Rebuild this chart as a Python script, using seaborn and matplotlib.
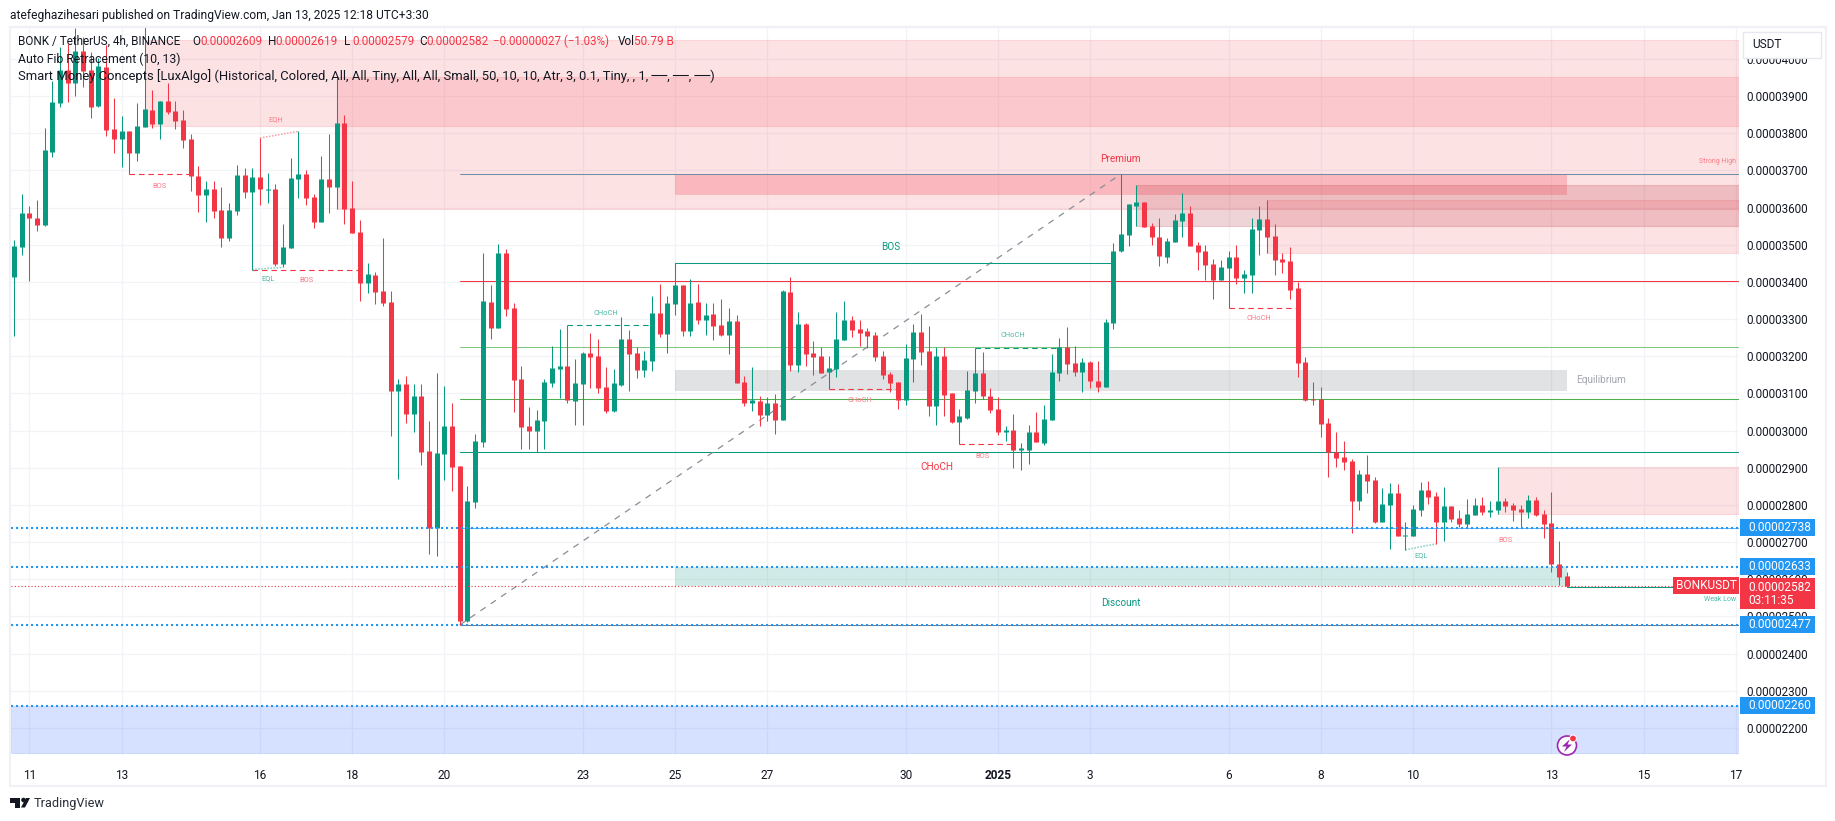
import pandas as pd
import numpy as np
import matplotlib
matplotlib.use("Agg")
import matplotlib.pyplot as plt
from matplotlib.patches import Rectangle, Ellipse, Polygon
import seaborn as sns

# prices are in units of 0.00000001 USDT, one entry per 4h candle
opens = [3414,3494,3584,3573,3553,3749,3882,3970,3936,4021,
         3970,3873,3977,3810,3785,3805,3747,3817,3862,3824,
         3886,3859,3835,3784,3686,3633,3649,3593,3518,3590,
         3687,3641,3682,3647,3649,3449,3491,3676,3690,3628,
         3561,3676,3655,3827,3598,3534,3396,3418,3375,3346,
         3106,3125,3044,3093,2945,2738,2937,3012,2904,2487,
         2808,2969,3346,3276,3478,3330,3139,3012,2999,3026,
         3128,3165,3174,3079,3125,3209,3200,3117,3052,3122,
         3246,3209,3163,3187,3316,3260,3340,3392,3268,3346,
         3297,3313,3284,3257,3295,3130,3074,3079,3042,3074,
         3028,3373,3176,3287,3208,3200,3157,3165,3243,3297,
         3273,3268,3257,3200,3152,3130,3082,3192,3265,3214,
         3066,3200,3101,3023,3034,3106,3155,3093,3058,2996,
         3001,2947,2947,2996,2966,3028,3155,3225,3182,3157,
         3184,3133,3117,3289,3483,3526,3604,3615,3550,3521,
         3467,3507,3564,3585,3499,3483,3448,3405,3437,3467,
         3410,3418,3539,3569,3523,3461,3456,3383,3184,3085,
         3085,3020,2942,2929,2918,2810,2883,2867,2754,2800,
         2832,2716,2716,2786,2840,2824,2754,2797,2765,2749,
         2773,2800,2781,2786,2810,2800,2789,2781,2813,2775,
         2751,2641,2609]
highs = [3512,3636,3604,3620,3813,3940,4033,4041,4084,4060,
         4019,4001,4037,3894,3846,3805,3882,4086,3916,3886,
         3936,3886,3862,3797,3711,3671,3671,3656,3613,3714,
         3706,3706,3787,3692,3663,3555,3733,3805,3701,3636,
         3738,3797,3948,3849,3671,3566,3450,3426,3518,3375,
         3139,3147,3125,3125,3026,3155,3120,3074,2904,2851,
         2991,3478,3392,3502,3488,3343,3174,3063,3055,3139,
         3227,3273,3284,3192,3211,3262,3246,3171,3165,3305,
         3270,3225,3214,3362,3394,3362,3450,3392,3408,3394,
         3343,3343,3354,3330,3311,3147,3171,3093,3090,3098,
         3378,3413,3319,3289,3241,3225,3200,3319,3348,3308,
         3297,3276,3265,3214,3157,3130,3233,3287,3313,3281,
         3225,3225,3101,3058,3160,3222,3211,3114,3090,3012,
         3044,2966,3015,3050,3069,3206,3249,3278,3227,3195,
         3187,3187,3300,3504,3690,3609,3660,3615,3558,3572,
         3518,3582,3639,3604,3507,3499,3461,3459,3483,3499,
         3432,3572,3604,3620,3556,3477,3494,3399,3198,3130,
         3117,3033,2996,2972,2923,2894,2934,2875,2845,2859,
         2856,2754,2800,2862,2864,2835,2848,2797,2786,2816,
         2818,2821,2810,2902,2818,2805,2800,2827,2821,2786,
         2835,2703,2619]
lows = [3254,3472,3403,3537,3551,3736,3871,3884,3900,3923,
        3841,3871,3792,3747,3709,3690,3726,3817,3815,3784,
        3851,3811,3760,3644,3588,3561,3571,3493,3509,3579,
        3625,3433,3606,3612,3444,3439,3491,3625,3606,3544,
        3561,3585,3596,3555,3531,3348,3370,3340,3335,2985,
        2869,3020,2996,2907,2668,2662,2867,2837,2477,2485,
        2791,2956,3246,3276,3308,3050,2950,2950,2942,2950,
        3117,3087,3074,3015,3015,3114,3101,3047,3050,3120,
        3106,3141,3144,3160,3252,3209,3311,3254,3254,3287,
        3257,3243,3254,3206,3128,3066,3052,3012,3026,2991,
        3028,3160,3157,3173,3149,3155,3112,3144,3243,3252,
        3227,3222,3187,3138,3103,3058,3069,3130,3176,3039,
        3015,3039,3020,2964,3031,3074,3085,3047,2988,2972,
        2899,2894,2910,2969,2961,3028,3133,3152,3147,3103,
        3114,3103,3117,3273,3480,3496,3550,3547,3499,3443,
        3451,3507,3521,3496,3432,3405,3354,3405,3331,3394,
        3370,3370,3472,3478,3418,3424,3354,3144,3079,3068,
        2982,2875,2902,2894,2724,2786,2832,2751,2754,2681,
        2716,2679,2716,2770,2802,2695,2703,2754,2740,2738,
        2773,2773,2767,2775,2781,2757,2740,2765,2770,2711,
        2619,2584,2579]
closes = [3496,3584,3572,3553,3754,3883,3970,3936,4021,3968,
          3871,3980,3808,3785,3805,3747,3819,3865,3824,3886,
          3857,3833,3781,3684,3633,3649,3590,3518,3593,3687,
          3641,3682,3649,3649,3449,3493,3679,3690,3625,3561,
          3676,3655,3827,3596,3531,3396,3421,3372,3343,3106,
          3125,3044,3093,2942,2738,2939,3012,2902,2487,2810,
          2972,3348,3276,3478,3327,3136,3009,2999,3028,3130,
          3168,3174,3082,3128,3209,3198,3114,3052,3128,3246,
          3206,3163,3190,3316,3260,3343,3392,3268,3343,3297,
          3311,3281,3257,3295,3128,3074,3082,3042,3074,3028,
          3375,3176,3287,3206,3198,3155,3168,3246,3297,3270,
          3262,3254,3198,3149,3128,3082,3195,3265,3211,3066,
          3200,3095,3023,3039,3109,3155,3093,3055,2996,3001,
          2947,2953,2996,2969,3031,3157,3225,3179,3157,3184,
          3133,3117,3292,3483,3529,3609,3615,3547,3521,3469,
          3510,3566,3585,3496,3480,3445,3405,3440,3467,3410,
          3421,3542,3569,3521,3459,3453,3378,3181,3082,3082,
          3017,2942,2926,2915,2810,2883,2864,2754,2802,2832,
          2716,2719,2789,2840,2821,2754,2797,2762,2749,2775,
          2800,2781,2786,2810,2797,2786,2781,2813,2773,2749,
          2641,2606,2582]

# date axis, in candle numbers
date_ticks = [2, 14, 32, 44, 56, 74, 86, 98, 116, 128, 140, 158, 170, 182, 200, 212, 224]
date_labels = ["11", "13", "16", "18", "20", "23", "25", "27", "30", "2025",
               "3", "6", "8", "10", "13", "15", "17"]
price_ticks = [4000, 3900, 3800, 3700, 3600, 3500, 3400, 3300, 3200, 3100, 3000,
               2900, 2800, 2700, 2600, 2500, 2400, 2300, 2200]

# supply / demand zones: first candle, top, bottom
zone_starts = [17, 42, 146, 163, 193]
zone_tops = [4051, 3951, 3660, 3620, 2902]
zone_bottoms = [3819, 3596, 3550, 3478, 2775]
zone_colors = ["#f23645", "#f23645", "#b02a37", "#f23645", "#f23645"]
zone_alphas = [0.14, 0.14, 0.20, 0.14, 0.14]

# fib levels
fib_prices = [3690, 3403, 3225, 3084, 2942, 2738, 2477]
fib_colors = ["#6f8fa8", "#f23645", "#81c784", "#4caf50", "#089981", "#64b5f6", "#787b86"]
dotted_prices = [2738, 2633, 2477, 2260]

# dashed structure lines: first candle, last candle, price, colour
struct_starts = [15, 31, 72, 106, 125, 123, 158]
struct_ends = [23, 45, 83, 115, 136, 130, 167]
struct_prices = [3689, 3433, 3283, 3113, 3221, 2963, 3331]
struct_colors = ["#f23645", "#f23645", "#089981", "#f23645", "#089981", "#f23645", "#f23645"]

RED = "#f23645"
TEAL = "#089981"
BLUE = "#2196f3"
INK = "#131722"
SOFT_RED = "#f77c88"
SOFT_TEAL = "#4db8a6"

W, H = 1835, 821
sns.set_theme(style="white")
plt.rcParams['font.family'] = ['Roboto', 'DejaVu Sans']

fig = plt.figure(figsize=(W / 100, H / 100), dpi=100, facecolor="white")
ax = fig.add_axes([10.5 / W, 1 - 755 / H, (1739 - 10.5) / W, (755 - 28) / H])

df = pd.DataFrame({"i": np.arange(len(opens)), "open": opens, "high": highs,
                   "low": lows, "close": closes})
df["side"] = np.where(df["close"] >= df["open"], "up", "down")
palette = {"up": TEAL, "down": RED}

wicks = df.melt(id_vars=["i", "side"], value_vars=["high", "low"], value_name="price")
bodies = df.melt(id_vars=["i", "side"], value_vars=["open", "close"], value_name="price")

sns.lineplot(data=wicks, x="i", y="price", hue="side", units="i", estimator=None,
             palette=palette, linewidth=0.75, legend=False, ax=ax, zorder=4,
             solid_capstyle="butt")
sns.lineplot(data=bodies, x="i", y="price", hue="side", units="i", estimator=None,
             palette=palette, linewidth=3.6, legend=False, ax=ax, zorder=5,
             solid_capstyle="butt")

x_left, x_right = -0.44, 224.4
ax.set_xlim(x_left, x_right)
ax.set_ylim(2127, 4083)

# zones
for s, t, b, c, a in zip(zone_starts, zone_tops, zone_bottoms, zone_colors, zone_alphas):
    ax.add_patch(Rectangle((s, b), x_right - s, t - b, fc=c, ec=c, alpha=a, lw=0.8, zorder=1))
ax.add_patch(Rectangle((86, 3633), 116, 57, fc=RED, alpha=0.24, lw=0, zorder=1.2))
ax.add_patch(Rectangle((86, 3107), 116, 56, fc="#787b86", alpha=0.22, lw=0, zorder=1.2))
ax.add_patch(Rectangle((86, 2582), 116, 51, fc=TEAL, alpha=0.19, lw=0, zorder=1.2))
ax.add_patch(Rectangle((x_left, 2132), x_right - x_left, 128, fc="#2962ff", ec="#2962ff",
                       alpha=0.19, lw=0.6, zorder=1.2))

# fib retracement
for p, c in zip(fib_prices, fib_colors):
    ax.plot([58, x_right], [p, p], color=c, lw=0.75, zorder=3)
ax.plot([58, 144], [2477, 3690], color="#8a8d96", lw=0.9, ls=(0, (5, 5)), zorder=3)

# horizontal rays over the whole pane
for p in dotted_prices:
    ax.plot([x_left, x_right], [p, p], color=BLUE, lw=1.5, ls=(0, (1, 1.4)), zorder=6)
ax.plot([x_left, x_right], [2582, 2582], color=RED, lw=0.8, ls=(0, (1, 2)), zorder=6)

# market structure
for s, e, p, c in zip(struct_starts, struct_ends, struct_prices, struct_colors):
    ax.plot([s, e], [p, p], color=c, lw=0.8, ls=(0, (5, 3.5)), zorder=3)
ax.plot([86, 143], [3450, 3450], color=TEAL, lw=0.75, zorder=3)
ax.plot([202, x_right], [2579, 2579], color=TEAL, lw=0.75, zorder=3)
ax.plot([32, 37], [3787, 3805], color="#f7a0a8", lw=1.1, ls=(0, (1, 1)), zorder=3)
ax.plot([31, 35], [3433, 3439], color="#7fcfc0", lw=1.1, ls=(0, (1, 1)), zorder=3)
ax.plot([181, 185], [2679, 2695], color="#7fcfc0", lw=1.1, ls=(0, (1, 1)), zorder=3)

def note(i, price, txt, color, px, ha="center"):
    ax.text(i, price, txt, color=color, fontsize=px * 0.72, ha=ha, va="center", zorder=7)

note(34, 3837, "EQH", SOFT_RED, 7.5)
note(33, 3408, "EQL", SOFT_TEAL, 7.5)
note(183, 2662, "EQL", SOFT_TEAL, 7.5)
note(19, 3656, "BOS", SOFT_RED, 7.5)
note(38, 3403, "BOS", SOFT_RED, 7.5)
note(126, 2930, "BOS", SOFT_RED, 7.5)
note(194, 2705, "BOS", SOFT_RED, 7.5)
note(77, 3315, "CHoCH", SOFT_TEAL, 7.5)
note(130, 3256, "CHoCH", SOFT_TEAL, 7.5)
note(110, 3081, "CHoCH", SOFT_RED, 7.5)
note(162, 3302, "CHoCH", SOFT_RED, 7.5)
note(114, 3493, "BOS", TEAL, 10)
note(120, 2902, "CHoCH", RED, 10)
note(144, 3731, "Premium", RED, 10)
note(144, 2536, "Discount", TEAL, 10)
note(206.5, 3136, "Equilibrium", "#a3a6af", 10)
note(224.0, 3725, "Strong High", SOFT_RED, 7, ha="right")
note(224.0, 2545, "Weak Low", SOFT_TEAL, 7, ha="right")

# axis styling
sns.despine(ax=ax, left=True, bottom=True, right=True, top=True)
ax.set_xlabel("")
ax.set_ylabel("")
ax.set_xticks(date_ticks)
ax.set_xticklabels(date_labels)
ax.yaxis.tick_right()
ax.set_yticks(price_ticks)
ax.set_yticklabels([f"{p / 1e8:.8f}" for p in price_ticks])
ax.tick_params(axis="x", length=0, pad=10, labelsize=8.6, labelcolor=INK)
ax.tick_params(axis="y", length=0, pad=5.5, labelsize=8.4, labelcolor=INK)
ax.xaxis.get_ticklabels()[9].set_fontweight("bold")
ax.grid(True, color="#f2f3f6", lw=0.9)
ax.set_axisbelow(True)

# price tags on the scale
tr = ax.get_yaxis_transform()
for p in dotted_prices:
    ax.add_patch(Rectangle((1.0004, p - 23), 0.0435, 46, transform=tr, fc=BLUE, lw=0,
                           clip_on=False, zorder=9))
    ax.text(1.0052, p, f"{p / 1e8:.8f}", transform=tr, color="white", fontsize=8.6,
            ha="left", va="center", zorder=10)
ax.add_patch(Rectangle((1.0004, 2520), 0.0435, 82, transform=tr, fc=RED, lw=0,
                       clip_on=False, zorder=9))
ax.text(1.0052, 2579, "0.00002582", transform=tr, color="white", fontsize=8.6,
        ha="left", va="center", zorder=10)
ax.text(1.0052, 2542, "03:11:35", transform=tr, color="white", fontsize=8.6,
        ha="left", va="center", zorder=10)
ax.add_patch(Rectangle((0.9618, 2582 - 23), 0.0382, 46, transform=tr, fc=RED, lw=0, zorder=8))
ax.text(0.9809, 2582, "BONKUSDT", transform=tr, color="white", fontsize=8.6,
        ha="center", va="center", zorder=10)

# frame and header, placed in figure pixels
def px_x(x):
    return x / W

def px_y(y):
    return 1 - y / H

def px_poly(pts, **kws):
    fig.add_artist(Polygon([(px_x(a), px_y(b)) for a, b in pts], transform=fig.transFigure,
                           ec="none", **kws))

def px_circle(x, y, r, **kws):
    fig.add_artist(Ellipse((px_x(x), px_y(y)), 2 * r / W, 2 * r / H,
                           transform=fig.transFigure, **kws))

fig.add_artist(Rectangle((px_x(10), px_y(786)), 1815.5 / W, 758.5 / H, transform=fig.transFigure,
                         fc="none", ec="#eff1f6", lw=1.6, zorder=1))
fig.text(px_x(10), px_y(15), "atefeghazihesari published on TradingView.com, Jan 13, 2025 12:18 UTC+3:30",
         color=INK, fontsize=8.65, va="center", zorder=10)

def legend_text(x, y, txt, color=INK, size=8.5):
    fig.text(px_x(x), px_y(y), txt, color=color, fontsize=size, va="center", zorder=10)

legend_text(18, 41.5, "BONK / TetherUS, 4h, BINANCE")
for x, s, c in [(192, "O", INK), (200, "0.00002609", RED), (268, "H", INK), (275, "0.00002619", RED),
                (344, "L", INK), (352, "0.00002579", RED), (419, "C", INK), (426, "0.00002582", RED),
                (493, "−0.00000027 (−1.03%)", RED), (618, "Vol", INK), (634, "50.79 B", RED)]:
    legend_text(x, 41.5, s, c, 8.5 if x != 493 else 8.3)
legend_text(18, 59, "Auto Fib Retracement (10, 13)", size=8.85)
legend_text(18, 76, "Smart Money Concepts [LuxAlgo] (Historical, Colored, All, All, Tiny, All, All, Small, "
                    "50, 10, 10, Atr, 3, 0.1, Tiny, , 1, ──, ──, ──)", size=9.4)

# USDT button
fig.add_artist(Rectangle((px_x(1743), px_y(58)), 78 / W, 26 / H, transform=fig.transFigure,
                         fc="white", ec="#e6e8ef", lw=1.0, zorder=8))
fig.text(px_x(1752), px_y(44.5), "USDT", color=INK, fontsize=8.6, va="center", zorder=10)

# lightning badge
px_circle(1567, 745.5, 9.5, fc="white", ec="#9c27b0", lw=1.2, zorder=8)
px_poly([(1570, 739), (1562, 746.5), (1566.5, 746.5), (1564, 752), (1572, 744.5), (1567.5, 744.5)],
        fc="#9c27b0", zorder=9)
px_circle(1573, 738.5, 3.4, fc=RED, ec="white", lw=0.7, zorder=9)

# TradingView logo
px_poly([(10, 798), (20, 798), (20, 807.5), (15, 807.5), (15, 802.5), (10, 802.5)], fc=INK, zorder=10)
px_poly([(26, 798), (30, 798), (25, 807.5), (21, 807.5)], fc=INK, zorder=10)
px_circle(23.5, 800, 2.3, fc=INK, ec="none", zorder=10)
fig.text(px_x(33.5), px_y(803), "TradingView", color="#2a2e39", fontsize=9.2, va="center", zorder=10)

fig.savefig("out.png", dpi=100, facecolor="white")
